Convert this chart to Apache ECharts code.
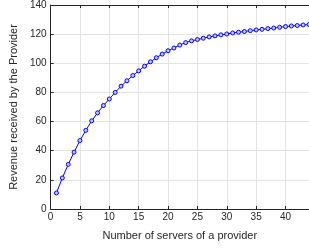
<!DOCTYPE html>
<html>
<head>
<meta charset="utf-8">
<script src="https://cdn.jsdelivr.net/npm/echarts@6/dist/echarts.min.js"></script>
<style>
  html, body { margin: 0; padding: 0; background: #fff; }
  #chart { width: 309px; height: 249px; }
</style>
</head>
<body>
<div id="chart"></div>
<script>
// servers (x) and revenue (y)
const servers = [1, 2, 3, 4, 5, 6, 7, 8, 9, 10, 11, 12, 13, 14, 15, 16, 17, 18, 19, 20, 21, 22,
  23, 24, 25, 26, 27, 28, 29, 30, 31, 32, 33, 34, 35, 36, 37, 38, 39, 40, 41, 42, 43, 44];
const revenue = [11, 21.3, 30.6, 39, 47, 54, 60.5, 66, 71, 75.5, 80, 84.3, 88, 91.6, 94.8, 98,
  101, 103.8, 106.3, 108.6, 110.5, 112.5, 114.2, 115.4, 116.3, 117.2, 118.1, 118.8, 119.5,
  120.1, 120.8, 121.3, 121.8, 122.4, 122.9, 123.3, 123.8, 124.2, 124.7, 125.2, 125.6, 125.9,
  126.3, 126.6];
const xTicks = [0, 5, 10, 15, 20, 25, 30, 35, 40];
const yTicks = [0, 20, 40, 60, 80, 100, 120, 140];

const axisColor = '#262626';
const font = 'Liberation Sans, Arial, sans-serif';

const myChart = echarts.init(document.getElementById('chart'));
const option = {
  animation: false,
  grid: { left: 50, top: 4, right: -2, bottom: 40 },
  xAxis: [
    {
      type: 'value',
      min: 0,
      max: 44,
      interval: 5,
      name: 'Number of servers of a provider',
      nameLocation: 'middle',
      nameGap: 21,
      nameTextStyle: { color: axisColor, fontSize: 11, fontFamily: font },
      axisLine: { lineStyle: { color: axisColor, width: 1 } },
      axisTick: { inside: true, length: 3, lineStyle: { color: axisColor } },
      axisLabel: {
        color: axisColor, fontSize: 10, fontFamily: font, margin: 3,
        showMaxLabel: false,
        formatter: (v) => (xTicks.includes(v) ? String(v) : '')
      },
      splitLine: { show: true, lineStyle: { color: '#e3e3e3', width: 1 } }
    },
    {
      type: 'value',
      position: 'top',
      min: 0,
      max: 44,
      interval: 5,
      axisLine: { show: true, onZero: false, lineStyle: { color: axisColor, width: 1 } },
      axisTick: { show: true, inside: true, length: 3, lineStyle: { color: axisColor } },
      axisLabel: { show: false },
      splitLine: { show: false }
    }
  ],
  yAxis: {
    type: 'value',
    min: 0,
    max: 140,
    interval: 20,
    name: 'Revenue received by the Provider',
    nameLocation: 'middle',
    nameGap: 28,
    nameTextStyle: { color: axisColor, fontSize: 11, fontFamily: font },
    axisLine: { show: true, lineStyle: { color: axisColor, width: 1 } },
    axisTick: { show: true, inside: true, length: 3, lineStyle: { color: axisColor } },
    axisLabel: {
      color: axisColor, fontSize: 10, fontFamily: font, margin: 4,
      formatter: (v) => (yTicks.includes(v) ? String(v) : '')
    },
    splitLine: { show: true, lineStyle: { color: '#e3e3e3', width: 1 } }
  },
  series: [
    {
      type: 'line',
      data: servers.map((s, i) => [s, revenue[i]]),
      symbol: 'circle',
      symbolSize: 4,
      itemStyle: { color: '#c8c8ff', borderColor: '#0000ff', borderWidth: 1 },
      lineStyle: { color: '#0000ff', width: 1 },
      clip: false
    }
  ]
};
myChart.setOption(option);
</script>
</body>
</html>
